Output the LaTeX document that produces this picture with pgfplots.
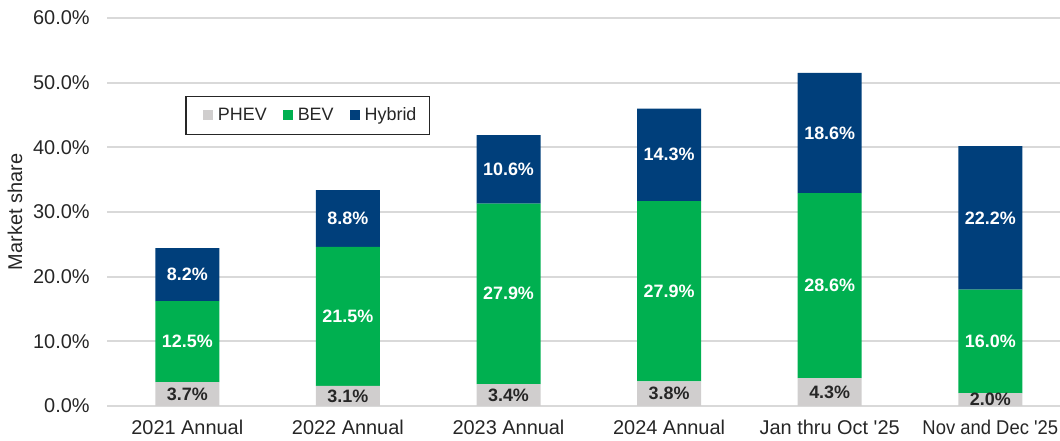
\documentclass[border=0pt]{standalone}
\usepackage{fontspec}
\setmainfont{Liberation Sans}
\usepackage{graphicx}
\usepackage{pgfplots}
\pgfplotsset{compat=1.18}
\definecolor{PhevGray}{HTML}{D0CECE}
\definecolor{BevGreen}{HTML}{00B050}
\definecolor{HybNavy}{HTML}{003F7B}
\definecolor{GridGray}{HTML}{D9D9D9}
\definecolor{TxtGray}{HTML}{262626}

\begin{document}
\begin{tikzpicture}
\begin{axis}[
    name=ax,
    ybar stacked,
    scale only axis,
    width=476.5bp,
    height=194bp,
    bar width=32bp,
    xmin=-0.5, xmax=5.434,
    ymin=0, ymax=60,
    ytick={0,10,...,60},
    xtick=data,
    xticklabels={2021 Annual,2022 Annual,2023 Annual,2024 Annual,Jan thru Oct \textquotesingle25,\scalebox{0.925}[1]{Nov and Dec \textquotesingle25}},
    yticklabel={\pgfmathprintnumber[fixed,fixed zerofill,precision=1]{\tick}\%},
    /pgf/number format/assume math mode=true,
    ymajorgrids=true,
    grid style={draw=GridGray, line width=1bp},
    axis line style={draw=none},
    major tick length=0pt,
    tick style={draw=none},
    tick label style={font=\fontsize{10}{11}\selectfont, text=TxtGray},
    yticklabel style={inner sep=0pt, xshift=-8.5bp},
    xticklabel style={inner sep=0pt, anchor=north, yshift=-7bp},
    ylabel={Market share},
    ylabel style={at={(rel axis cs:-0.0965,0.5)}, anchor=center, font=\fontsize{10}{11}\selectfont, text=TxtGray},
    point meta=rawy,
    nodes near coords={\pgfmathprintnumber[fixed,fixed zerofill,precision=1]{\pgfplotspointmeta}\%},
    every node near coord/.append style={anchor=center, font=\bfseries\fontsize{9}{10}\selectfont},
    legend columns=3,
    legend style={at={(0.082,0.80)}, anchor=north west, draw=TxtGray, line width=0.8bp,
        font=\fontsize{9}{10}\selectfont, text=TxtGray, inner xsep=4bp, inner ysep=3.5bp,
        nodes={inner xsep=2.5bp},
        /tikz/every even column/.append style={column sep=1bp}},
    legend image code/.code={\path (-4.5bp,0); \fill[#1] (0bp,-2.5bp) rectangle (5bp,2.5bp);},
]
\addplot+[fill=PhevGray, draw=none, every node near coord/.append style={text=TxtGray}] coordinates {
    (0,3.7) (1,3.1) (2,3.4) (3,3.8) (4,4.3) (5,2.0)
};
\addplot+[fill=BevGreen, draw=none, every node near coord/.append style={text=white}] coordinates {
    (0,12.5) (1,21.5) (2,27.9) (3,27.9) (4,28.6) (5,16.0)
};
\addplot+[fill=HybNavy, draw=none, every node near coord/.append style={text=white}] coordinates {
    (0,8.2) (1,8.8) (2,10.6) (3,14.3) (4,18.6) (5,22.2)
};
\legend{PHEV,BEV,Hybrid}
\end{axis}
\pgfresetboundingbox
\path ([shift={(-53.5bp,-17.5bp)}]ax.south west) rectangle ([shift={(0bp,9bp)}]ax.north east);
\end{tikzpicture}
\end{document}
